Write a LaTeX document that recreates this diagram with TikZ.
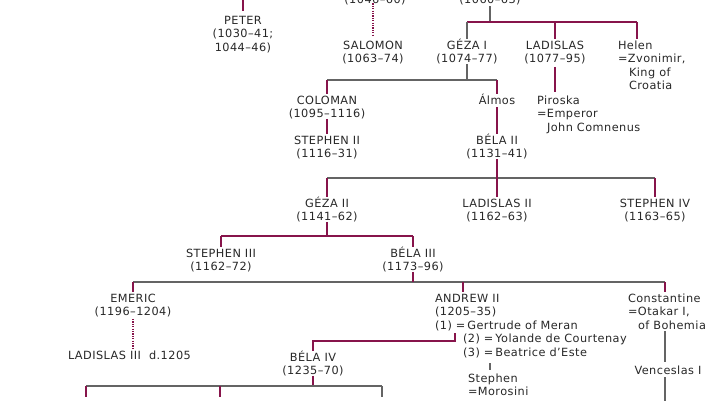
\documentclass[tikz,border=0pt]{standalone}
\usepackage{fontspec}
\setmainfont{DejaVu Sans}[LetterSpace=4]
\definecolor{mar}{RGB}{135,20,75}
\definecolor{barc}{RGB}{100,100,100}
\definecolor{txt}{RGB}{40,40,40}
\newcommand\fl{\rule{0pt}{10.5pt}}
\begin{document}
\begin{tikzpicture}[x=1pt,y=-1pt,
  person/.style={inner sep=0pt, outer sep=0pt, text=txt, font=\fontsize{11.3}{13.5}\selectfont, align=center, anchor=north},
  lperson/.style={person, align=left, anchor=north west},
  mline/.style={draw=mar, line width=2.2pt},
  gline/.style={draw=barc, line width=2.5pt},
  mdot/.style={draw=mar, line width=2pt, dash pattern=on 1.2pt off 1.2pt},
]
\useasboundingbox (0,0) rectangle (710,400);
\fill[white] (0,0) rectangle (710,400);

% nodes
\node[person] (andrew1) at (375,-7.5) {\fl(1046–60)};
\node[person] (bela1) at (490,-7.5) {\fl(1060–63)};
\node[person] (peter) at (243,13.5) {\fl PETER\\(1030–41;\\1044–46)};
\node[person] (salomon) at (373,38.5) {\fl SALOMON\\(1063–74)};
\node[person] (geza1) at (467,38.5) {\fl GÉZA I\\(1074–77)};
\node[person] (ladislas1) at (555,38.5) {\fl LADISLAS\\(1077–95)};
\node[lperson] (helen) at (618,38.5) {\fl Helen\\=Zvonimir,\\\hspace*{11pt}King of\\\hspace*{11pt}Croatia};
\node[person] (coloman) at (327,93.5) {\fl COLOMAN\\(1095–1116)};
\node[person] (almos) at (497,93.5) {\fl Álmos};
\node[lperson] (piroska) at (537,93.5) {\fl Piroska\\=Emperor\\\hspace*{10pt}John Comnenus};
\node[person] (stephen2) at (327,133.5) {\fl STEPHEN II\\(1116–31)};
\node[person] (bela2) at (497,133.5) {\fl BÉLA II\\(1131–41)};
\node[person] (geza2) at (327,196.5) {\fl GÉZA II\\(1141–62)};
\node[person] (ladislas2) at (497,196.5) {\fl LADISLAS II\\(1162–63)};
\node[person] (stephen4) at (655,196.5) {\fl STEPHEN IV\\(1163–65)};
\node[person] (stephen3) at (221,246.5) {\fl STEPHEN III\\(1162–72)};
\node[person] (bela3) at (413,246.5) {\fl BÉLA III\\(1173–96)};
\node[person] (emeric) at (133,291.5) {\fl EMERIC\\(1196–1204)};
\node[lperson] (ladislas3) at (68,348.5) {\fl LADISLAS III\hspace{8pt}d.1205};
\node[lperson] (andrew2) at (435,291.5) {\fl ANDREW II\\(1205–35)\\(1) =\,Gertrude of Meran\\\hspace*{28pt}(2) =\,Yolande de Courtenay\\\hspace*{28pt}(3) =\,Beatrice d’Este};
\node[lperson] (stephen) at (468,371.5) {\fl Stephen\\=Morosini};
\node[person] (bela4) at (313,350.5) {\fl BÉLA IV\\(1235–70)};
\node[lperson] (constantine) at (628,291.5) {\fl Constantine\\=Otakar I,\\\hspace*{10pt}of Bohemia};
\node[person] (venceslas) at (668,363.5) {\fl Venceslas I};

% coordinates
\coordinate (ptop) at (243,-2);
\coordinate (b1) at (0,22);
\coordinate (b1r) at (637,22);
\coordinate (b2) at (0,80);
\coordinate (b3) at (0,178);
\coordinate (b4) at (0,236);
\coordinate (b5) at (0,282);
\coordinate (b5r) at (665,282);
\coordinate (ad) at (463,282);
\coordinate (g1) at (455,333);
\coordinate (g2) at (455,341);
\coordinate (b6) at (0,386);
\coordinate (c1) at (86,386);
\coordinate (c2) at (220,386);
\coordinate (c3) at (382,386);
\coordinate (c1e) at (86,397);
\coordinate (c2e) at (220,397);
\coordinate (c3e) at (382,397);
\coordinate (s1) at (490,363);
\coordinate (vend) at (665,403);

% top generation
\draw[mline, shorten >=3pt] (ptop) -- (peter.north);
\draw[mdot, shorten <=3pt, shorten >=2pt] (andrew1.south) -- (salomon.north |- andrew1.south) -- (salomon.north);
\draw[gline, shorten <=2pt] (bela1.south) -- (bela1.south |- b1);
\draw[mline] (geza1.north |- b1) -- (b1r);
\draw[gline] (geza1.north |- b1) -- (geza1.north);
\draw[mline] (ladislas1.north |- b1) -- (ladislas1.north);
\draw[mline] (b1r) -- (b1r |- helen.north);

% Geza I
\draw[gline] (geza1.south) -- (geza1.south |- b2);
\draw[gline] (coloman.north |- b2) -- (almos.north |- b2);
\draw[mline] (coloman.north |- b2) -- (coloman.north);
\draw[mline] (almos.north |- b2) -- (almos.north);
\draw[mline, shorten <=3pt, shorten >=2pt] (ladislas1.south) -- (ladislas1.south |- piroska.north);
\draw[mline] (coloman.south) -- (stephen2.north);
\draw[mline, shorten <=3pt] (almos.south) -- (bela2.north);

% Bela II
\draw[gline] (geza2.north |- b3) -- (stephen4.north |- b3);
\draw[mline] (bela2.south) -- (ladislas2.north);
\draw[mline] (geza2.north |- b3) -- (geza2.north);
\draw[mline] (stephen4.north |- b3) -- (stephen4.north);

% Geza II
\draw[mline] (geza2.south) -- (geza2.south |- b4);
\draw[mline] (stephen3.north |- b4) -- (bela3.north |- b4);
\draw[mline] (stephen3.north |- b4) -- (stephen3.north);
\draw[mline] (bela3.north |- b4) -- (bela3.north);

% Bela III
\draw[gline] (emeric.north |- b5) -- (b5r);
\draw[mline] (bela3.south) -- (bela3.south |- b5);
\draw[mline] (emeric.north |- b5) -- (emeric.north);
\draw[mline] (ad) -- (ad |- andrew2.north);
\draw[mline] (b5r) -- (b5r |- constantine.north);
\draw[mdot, shorten <=2pt] (emeric.south) -- (emeric.south |- ladislas3.north);

% Andrew II
\draw[mline] (g1) -- (g2) -- (g2 -| bela4.north) -- (bela4.north);
\draw[gline, line width=1.8pt, shorten >=2pt] (s1) -- (s1 |- stephen.north);
\draw[gline, shorten <=2pt, shorten >=2pt] (b5r |- constantine.south) -- (b5r |- venceslas.north);
\draw[gline, shorten <=3pt] (b5r |- venceslas.south) -- (vend);

% Bela IV
\draw[mline] (bela4.south) -- (bela4.south |- b6);
\draw[gline] (c1) -- (c3);
\draw[mline] (c1) -- (c1e);
\draw[mline] (c2) -- (c2e);
\draw[gline] (c3) -- (c3e);
\end{tikzpicture}
\end{document}
